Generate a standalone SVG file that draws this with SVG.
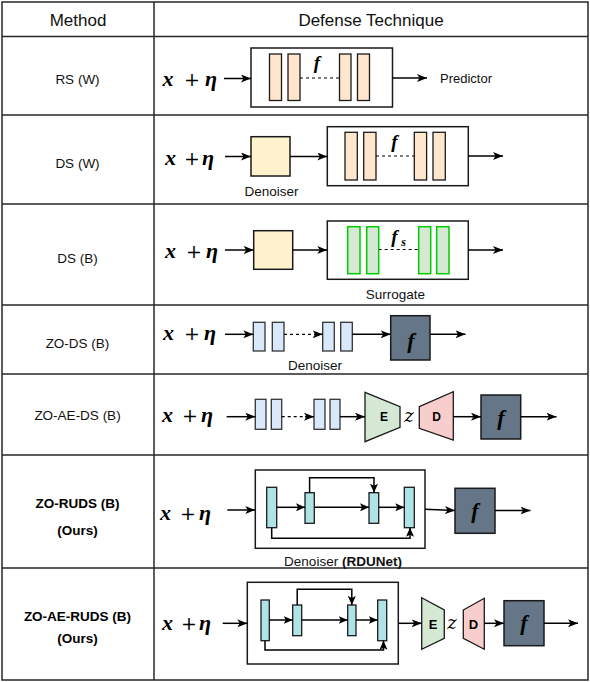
<svg xmlns="http://www.w3.org/2000/svg" width="590" height="682" viewBox="0 0 590 682">
<defs>
<marker id="ah" markerUnits="userSpaceOnUse" markerWidth="10" markerHeight="8" refX="10" refY="4" orient="auto">
<path d="M0,0 L10,4 L0,8 L2.5,4 Z" fill="#000"/>
</marker>
<marker id="ahs" markerUnits="userSpaceOnUse" markerWidth="9" markerHeight="8" refX="9" refY="4" orient="auto">
<path d="M0,0 L9,4 L0,8 L2,4 Z" fill="#000"/>
</marker>
</defs>
<style>
.grid{fill:none;stroke:#262626;stroke-width:1.5}
.hd{font-family:"Liberation Sans",Arial,sans-serif;font-size:17px;fill:#111;text-anchor:middle}
.lb{font-family:"Liberation Sans",Arial,sans-serif;font-size:13.5px;fill:#111;text-anchor:middle}
.lbb{font-family:"Liberation Sans",Arial,sans-serif;font-size:13.5px;font-weight:bold;fill:#000;text-anchor:middle}
.mi{font-family:"Liberation Serif","DejaVu Serif",serif;font-style:italic;font-weight:bold;font-size:22px;fill:#000}
.mo{font-family:"DejaVu Serif",serif;font-size:19px;fill:#000;text-anchor:middle}
.fi{font-family:"Liberation Serif","DejaVu Serif",serif;font-style:italic;font-weight:bold;fill:#000;text-anchor:middle}
.zi{font-family:"DejaVu Serif",serif;font-style:italic;font-size:18px;fill:#000;text-anchor:middle}
.box{fill:#fff;stroke:#1a1a1a;stroke-width:1.5}
.or{fill:#ffe6cc;stroke:#1a1a1a;stroke-width:1.3}
.yl{fill:#fff2cc;stroke:#1a1a1a;stroke-width:1.5}
.gr{fill:#d5e8d4;stroke:#00cc00;stroke-width:1.5}
.bl{fill:#dae8fc;stroke:#333;stroke-width:1.3}
.dk{fill:#647687;stroke:#1a1a1a;stroke-width:1.5}
.tl{fill:#b0e3e6;stroke:#1a1a1a;stroke-width:1.3}
.enc{fill:#d5e8d4;stroke:#1a1a1a;stroke-width:1.3}
.dec{fill:#f8cecc;stroke:#1a1a1a;stroke-width:1.3}
.ed{font-family:"Liberation Sans",Arial,sans-serif;font-weight:bold;fill:#000;text-anchor:middle}
.c{fill:none;stroke:#000;stroke-width:1.5;marker-end:url(#ah)}
.cs{fill:none;stroke:#000;stroke-width:1.5;marker-end:url(#ahs)}
.dash{fill:none;stroke:#000;stroke-width:1.2;stroke-dasharray:3,3}
</style>
<rect x="0" y="0" width="590" height="682" fill="#fff"/>
<g id="table">
<rect class="grid" x="2" y="2" width="586" height="678"/>
<line class="grid" x1="154" y1="2" x2="154" y2="680"/>
<line class="grid" x1="2" y1="36.5" x2="588" y2="36.5"/>
<line class="grid" x1="2" y1="115" x2="588" y2="115"/>
<line class="grid" x1="2" y1="204" x2="588" y2="204"/>
<line class="grid" x1="2" y1="305" x2="588" y2="305"/>
<line class="grid" x1="2" y1="374" x2="588" y2="374"/>
<line class="grid" x1="2" y1="455" x2="588" y2="455"/>
<line class="grid" x1="2" y1="568" x2="588" y2="568"/>
<text class="hd" x="78" y="25.5">Method</text>
<text class="hd" x="371" y="25.5">Defense Technique</text>
<text class="lb" x="77.5" y="84">RS (W)</text>
<text class="lb" x="77.5" y="168">DS (W)</text>
<text class="lb" x="77.5" y="263">DS (B)</text>
<text class="lb" x="77.5" y="348">ZO-DS (B)</text>
<text class="lb" x="77.5" y="420">ZO-AE-DS (B)</text>
<text class="lbb" x="77.5" y="508">ZO-RUDS (B)</text>
<text class="lbb" x="77.5" y="535">(Ours)</text>
<text class="lbb" x="77.5" y="621">ZO-AE-RUDS (B)</text>
<text class="lbb" x="77.5" y="643">(Ours)</text>
</g>

<!-- Row 1: RS (W) -->
<g id="r1-input"><text class="mi" x="162.5" y="86">x</text><text class="mo" x="192" y="86">+</text><text class="mi" x="205" y="86">η</text></g>
<g id="r1-predictor">
<rect class="box" x="251" y="48" width="141.5" height="59"/>
<rect class="or" x="269.5" y="54" width="12" height="46.5"/>
<rect class="or" x="288" y="54" width="12" height="46.5"/>
<rect class="or" x="339.5" y="54" width="11.5" height="46.5"/>
<rect class="or" x="357.5" y="54" width="12" height="46.5"/>
<line class="dash" x1="300" y1="78" x2="339.5" y2="78"/>
<text class="fi" x="317" y="69" font-size="19">f</text>
</g>
<g id="r1-label"><text class="lb" x="466" y="83" style="font-size:13px">Predictor</text></g>

<!-- Row 2: DS (W) -->
<g id="r2-input"><text class="mi" x="165" y="165">x</text><text class="mo" x="192" y="165">+</text><text class="mi" x="202" y="165">η</text></g>
<g id="r2-denoiser">
<rect class="yl" x="251" y="136.7" width="39" height="39.3"/>
<text class="lb" x="271.5" y="196">Denoiser</text>
</g>
<g id="r2-classifier">
<rect class="box" x="327.3" y="126.7" width="141" height="59"/>
<rect class="or" x="345" y="132.3" width="12.3" height="47.7"/>
<rect class="or" x="363.7" y="132.3" width="12.3" height="47.7"/>
<rect class="or" x="414.3" y="132.3" width="12.3" height="47.7"/>
<rect class="or" x="433" y="132.3" width="12.3" height="47.7"/>
<line class="dash" x1="376" y1="156" x2="414.3" y2="156"/>
<text class="fi" x="394.5" y="148" font-size="19">f</text>
</g>

<!-- Row 3: DS (B) -->
<g id="r3-input"><text class="mi" x="165" y="258">x</text><text class="mo" x="194" y="258">+</text><text class="mi" x="206" y="258">η</text></g>
<g id="r3-denoiser"><rect class="yl" x="253.7" y="230.7" width="39" height="38.6"/></g>
<g id="r3-surrogate">
<rect class="box" x="327.3" y="221" width="141" height="58.3"/>
<rect class="gr" x="347.7" y="226.7" width="12.3" height="47"/>
<rect class="gr" x="366.7" y="226.7" width="12" height="47"/>
<rect class="gr" x="418.7" y="226.7" width="12" height="47"/>
<rect class="gr" x="436.7" y="226.7" width="12.3" height="47"/>
<line class="dash" x1="378.7" y1="249.5" x2="418.7" y2="249.5"/>
<text class="fi" x="394.5" y="243" font-size="19">f</text>
<text class="fi" x="403.5" y="246" font-size="12">s</text>
<text class="lb" x="395.5" y="299">Surrogate</text>
</g>

<!-- Row 4: ZO-DS (B) -->
<g id="r4-input"><text class="mi" x="163" y="340">x</text><text class="mo" x="192" y="340">+</text><text class="mi" x="204" y="340">η</text></g>
<g id="r4-denoiser">
<rect class="bl" x="253.3" y="322.3" width="11.7" height="28.7"/>
<rect class="bl" x="272.3" y="322.3" width="11.7" height="28.7"/>
<rect class="bl" x="322.7" y="322.3" width="11.6" height="28.7"/>
<rect class="bl" x="340.7" y="322.3" width="11.6" height="28.7"/>
<text class="lb" x="315" y="370">Denoiser</text>
</g>
<g id="r4-f"><rect class="dk" x="390.7" y="315.7" width="39.3" height="44.3"/><text class="fi" x="411" y="348" font-size="22">f</text></g>

<!-- Row 5: ZO-AE-DS (B) -->
<g id="r5-input"><text class="mi" x="162" y="422">x</text><text class="mo" x="190" y="422">+</text><text class="mi" x="201" y="422">η</text></g>
<g id="r5-denoiser">
<rect class="bl" x="255.3" y="399.3" width="10.7" height="30"/>
<rect class="bl" x="271.3" y="399.3" width="10.4" height="30"/>
<rect class="bl" x="314" y="399.3" width="11" height="30"/>
<rect class="bl" x="330" y="399.3" width="10" height="30"/>
</g>
<g id="r5-encoder"><path class="enc" d="M365,392.3 L400,406.7 L400,427.3 L365,441.7 Z"/><text class="ed" x="384" y="421" font-size="12">E</text></g>
<g id="r5-z"><text class="zi" x="409" y="422">z</text></g>
<g id="r5-decoder"><path class="dec" d="M419.3,406.7 L453.3,391.7 L453.3,440 L419.3,428.3 Z"/><text class="ed" x="436.5" y="421" font-size="12">D</text></g>
<g id="r5-f"><rect class="dk" x="481" y="395" width="39.7" height="44"/><text class="fi" x="501" y="425" font-size="22">f</text></g>

<!-- Row 6: ZO-RUDS (B) -->
<g id="r6-input"><text class="mi" x="160" y="520">x</text><text class="mo" x="188" y="520">+</text><text class="mi" x="199" y="520">η</text></g>
<g id="r6-rdunet">
<rect class="box" x="255.3" y="470" width="169.7" height="78.3"/>
<rect class="tl" x="266.7" y="487.3" width="10" height="40.4"/>
<rect class="tl" x="305" y="492.7" width="9.3" height="30.6"/>
<rect class="tl" x="369" y="492.7" width="9.7" height="30.6"/>
<rect class="tl" x="404.3" y="487.3" width="10" height="40.4"/>
<text class="lb" x="343" y="566"><tspan>Denoiser </tspan><tspan font-weight="bold">(RDUNet)</tspan></text>
</g>
<g id="r6-f"><rect class="dk" x="455" y="488.3" width="40" height="45"/><text class="fi" x="475" y="518" font-size="22">f</text></g>

<!-- Row 7: ZO-AE-RUDS (B) -->
<g id="r7-input"><text class="mi" x="162" y="630">x</text><text class="mo" x="189" y="630">+</text><text class="mi" x="199" y="630">η</text></g>
<g id="r7-rdunet">
<rect class="box" x="247.3" y="582.3" width="151" height="81.7"/>
<rect class="tl" x="261" y="600" width="8.3" height="40.7"/>
<rect class="tl" x="292.7" y="605" width="9" height="30.7"/>
<rect class="tl" x="347.7" y="605" width="8.3" height="30.7"/>
<rect class="tl" x="377.7" y="600" width="9" height="40.7"/>
</g>
<g id="r7-encoder"><path class="enc" d="M421.7,597.7 L444.3,610 L444.3,638.3 L421.7,649.3 Z"/><text class="ed" x="433" y="628.5" font-size="13">E</text></g>
<g id="r7-z"><text class="zi" x="452" y="628.5">z</text></g>
<g id="r7-decoder"><path class="dec" d="M463.3,610 L484.3,598.3 L484.3,649.3 L463.3,638.3 Z"/><text class="ed" x="473.5" y="628.5" font-size="13">D</text></g>
<g id="r7-f"><rect class="dk" x="504" y="600.7" width="40" height="45"/><text class="fi" x="524" y="630" font-size="22">f</text></g>

<g id="connectors">
<!-- row 1 -->
<line class="c" x1="224" y1="78.5" x2="251" y2="78.5"/>
<line class="c" x1="392.5" y1="78" x2="427" y2="78"/>
<!-- row 2 -->
<line class="c" x1="225" y1="156.5" x2="251" y2="156.5"/>
<line class="c" x1="290" y1="156.5" x2="327.3" y2="156.5"/>
<line class="c" x1="468.3" y1="156" x2="503" y2="156"/>
<!-- row 3 -->
<line class="c" x1="225" y1="250" x2="253.7" y2="250"/>
<line class="c" x1="292.7" y1="250" x2="327.3" y2="250"/>
<line class="c" x1="468.3" y1="250" x2="503" y2="250"/>
<!-- row 4 -->
<line class="c" x1="225" y1="334.3" x2="253.3" y2="334.3"/>
<line class="dash" x1="284" y1="334.3" x2="314" y2="334.3"/>
<line class="c" x1="314" y1="334.3" x2="322.7" y2="334.3"/>
<line class="c" x1="352.3" y1="334.3" x2="390.7" y2="334.3"/>
<line class="c" x1="430" y1="334.3" x2="465.5" y2="334.3"/>
<!-- row 5 -->
<line class="c" x1="226.7" y1="416.7" x2="255.3" y2="416.7"/>
<line class="dash" x1="281.7" y1="416.7" x2="305" y2="416.7"/>
<line class="c" x1="305" y1="416.7" x2="314" y2="416.7"/>
<line class="c" x1="340" y1="416.7" x2="365" y2="416.7"/>
<line class="c" x1="453.3" y1="416.7" x2="481" y2="416.7"/>
<line class="c" x1="520.7" y1="416.7" x2="556.5" y2="416.7"/>
<!-- row 6 -->
<line class="c" x1="227.3" y1="510" x2="255.3" y2="510"/>
<line class="cs" x1="276.7" y1="507.3" x2="305" y2="507.3"/>
<line class="cs" x1="314.3" y1="507.3" x2="369" y2="507.3"/>
<line class="cs" x1="378.7" y1="507.3" x2="404.3" y2="507.3"/>
<path class="cs" d="M309.6,492.7 V477.7 H374 V492.7"/>
<path class="cs" d="M271.7,527.7 V538.3 H410 V527.7"/>
<line class="c" x1="425" y1="509.3" x2="455" y2="510.5"/>
<line class="c" x1="495" y1="510.5" x2="530.5" y2="510.5"/>
<!-- row 7 -->
<line class="c" x1="222.7" y1="623.3" x2="247.3" y2="623.3"/>
<line class="cs" x1="269.3" y1="620" x2="292.7" y2="620"/>
<line class="cs" x1="301.7" y1="620" x2="347.7" y2="620"/>
<line class="cs" x1="356" y1="620" x2="377.7" y2="620"/>
<path class="cs" d="M297.2,605 V589.3 H351.8 V605"/>
<path class="cs" d="M265,640.7 V650 H383.5 V640.7"/>
<line class="c" x1="398.3" y1="623.3" x2="421.7" y2="623.3"/>
<line class="c" x1="484.3" y1="623.3" x2="504" y2="623.3"/>
<line class="c" x1="544" y1="623.3" x2="578" y2="623.3"/>
</g>
</svg>
